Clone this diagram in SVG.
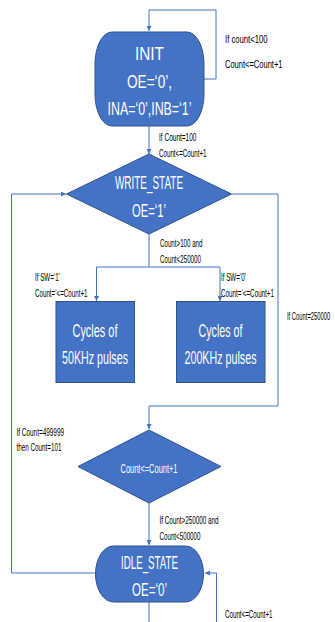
<svg xmlns="http://www.w3.org/2000/svg" width="335" height="622" viewBox="0 0 335 622">
  <defs>
    <marker id="arrow" viewBox="0 0 10 10" refX="10" refY="5" markerWidth="5" markerHeight="5" orient="auto" markerUnits="userSpaceOnUse">
      <path d="M0,0 L10,5 L0,10 z" fill="#4472C4"/>
    </marker>
    <style>
      .shape { fill: #4472C4; stroke: #2F528F; stroke-width: 1; }
      .wire { fill: none; stroke: #4472C4; stroke-width: 1; }
      .big { font-family: "Liberation Sans", Arial, sans-serif; font-size: 18px; fill: #FFFFFF; text-anchor: middle; }
      .mid { font-family: "Liberation Sans", Arial, sans-serif; font-size: 12px; fill: #FFFFFF; text-anchor: middle; }
      .lbl { font-family: "Liberation Sans", Arial, sans-serif; font-size: 11px; fill: #000000; }
    </style>
  </defs>
  <rect width="335" height="622" fill="#FFFFFF"/>

  <!-- connectors -->
  <g id="connectors">
    <!-- INIT self loop -->
    <path class="wire" d="M204,79 H216 V10 H149 V31" marker-end="url(#arrow)"/>
    <!-- INIT to WRITE_STATE -->
    <path class="wire" d="M149,126 V154" marker-end="url(#arrow)"/>
    <!-- WRITE_STATE split to pulse boxes -->
    <path class="wire" d="M149,234 V267"/>
    <path class="wire" d="M96.5,267 H220"/>
    <path class="wire" d="M96.5,267 V301" marker-end="url(#arrow)"/>
    <path class="wire" d="M220,267 V301" marker-end="url(#arrow)"/>
    <!-- WRITE_STATE to counter decision -->
    <path class="wire" d="M232,194 H278 V406 H149 V429" marker-end="url(#arrow)"/>
    <!-- counter decision to IDLE_STATE -->
    <path class="wire" d="M149,503 V545" marker-end="url(#arrow)"/>
    <!-- IDLE_STATE back to WRITE_STATE -->
    <path class="wire" d="M96,573 H11.5 V194 H66" marker-end="url(#arrow)"/>
    <!-- IDLE_STATE self loop -->
    <path class="wire" d="M216.5,622 V573 H205" marker-end="url(#arrow)"/>
    <!-- IDLE_STATE exit -->
    <path class="wire" d="M149,602 V622"/>
  </g>

  <!-- INIT -->
  <g id="init">
    <rect class="shape" x="95" y="32" width="109" height="94" rx="17" ry="32"/>
    <text class="big" x="149.5" y="59.5" textLength="29" lengthAdjust="spacingAndGlyphs">INIT</text>
    <text class="big" x="149.5" y="87.5" textLength="45" lengthAdjust="spacingAndGlyphs">OE=‘0’,</text>
    <text class="big" x="149.5" y="114.5" textLength="84" lengthAdjust="spacingAndGlyphs">INA=‘0’,INB=‘1’</text>
  </g>

  <!-- WRITE_STATE -->
  <g id="write_state">
    <polygon class="shape" points="149,154 231.5,194 149,234 66.5,194"/>
    <text class="big" x="149" y="189" textLength="68" lengthAdjust="spacingAndGlyphs">WRITE_STATE</text>
    <text class="big" x="149" y="216.5" textLength="34" lengthAdjust="spacingAndGlyphs">OE=‘1’</text>
  </g>

  <!-- 50KHz pulses -->
  <g id="pulses_50k">
    <rect class="shape" x="56" y="301.5" width="78.5" height="81"/>
    <text class="big" x="95" y="336.5" textLength="45" lengthAdjust="spacingAndGlyphs">Cycles of</text>
    <text class="big" x="95" y="363.5" textLength="66" lengthAdjust="spacingAndGlyphs">50KHz pulses</text>
  </g>

  <!-- 200KHz pulses -->
  <g id="pulses_200k">
    <rect class="shape" x="176.5" y="301.5" width="88.5" height="81"/>
    <text class="big" x="220.5" y="336.5" textLength="44" lengthAdjust="spacingAndGlyphs">Cycles of</text>
    <text class="big" x="220.5" y="363.5" textLength="72" lengthAdjust="spacingAndGlyphs">200KHz pulses</text>
  </g>

  <!-- counter decision -->
  <g id="count_step">
    <polygon class="shape" points="149,430 221,466.5 149,503 78,466.5"/>
    <text class="mid" x="149" y="472.5" textLength="57" lengthAdjust="spacingAndGlyphs">Count&lt;=Count+1</text>
  </g>

  <!-- IDLE_STATE -->
  <g id="idle_state">
    <rect class="shape" x="95.5" y="546" width="108" height="56" rx="18" ry="28"/>
    <text class="big" x="149.5" y="568.5" textLength="57" lengthAdjust="spacingAndGlyphs">IDLE_STATE</text>
    <text class="big" x="149.5" y="595.5" textLength="35" lengthAdjust="spacingAndGlyphs">OE=‘0’</text>
  </g>

  <!-- transition labels -->
  <g id="labels">
    <text class="lbl" x="225" y="43" textLength="42.5" lengthAdjust="spacingAndGlyphs">If count&lt;100</text>
    <text class="lbl" x="225" y="68" textLength="57.5" lengthAdjust="spacingAndGlyphs">Count&lt;=Count+1</text>
    <text class="lbl" x="159" y="140.5" textLength="37.5" lengthAdjust="spacingAndGlyphs">If Count=100</text>
    <text class="lbl" x="159" y="156.5" textLength="47.5" lengthAdjust="spacingAndGlyphs">Count&lt;=Count+1</text>
    <text class="lbl" x="160" y="247" textLength="42.5" lengthAdjust="spacingAndGlyphs">Count&gt;100 and</text>
    <text class="lbl" x="160" y="263" textLength="41" lengthAdjust="spacingAndGlyphs">Count&lt;250000</text>
    <text class="lbl" x="35" y="281" textLength="25" lengthAdjust="spacingAndGlyphs">If SW=‘1’</text>
    <text class="lbl" x="35" y="296.5" textLength="52.5" lengthAdjust="spacingAndGlyphs">Count=‘&lt;=Count+1</text>
    <text class="lbl" x="221" y="281" textLength="25" lengthAdjust="spacingAndGlyphs">If SW=‘0’</text>
    <text class="lbl" x="221" y="296.5" textLength="53" lengthAdjust="spacingAndGlyphs">Count=‘&lt;=Count+1</text>
    <!-- narrow label squeezed against the right edge -->
    <text class="lbl" transform="translate(287,320) scale(0.53,1)">If Count=250000</text>
    <text class="lbl" x="16.5" y="435.5" textLength="47.5" lengthAdjust="spacingAndGlyphs">If Count=499999</text>
    <text class="lbl" x="16.5" y="450.5" textLength="45" lengthAdjust="spacingAndGlyphs">then Count=101</text>
    <text class="lbl" x="159.5" y="524" textLength="59" lengthAdjust="spacingAndGlyphs">If Count&gt;250000 and</text>
    <text class="lbl" x="159.5" y="540" textLength="41" lengthAdjust="spacingAndGlyphs">Count&lt;500000</text>
    <text class="lbl" x="225" y="618" textLength="47.5" lengthAdjust="spacingAndGlyphs">Count&lt;=Count+1</text>
  </g>
</svg>
